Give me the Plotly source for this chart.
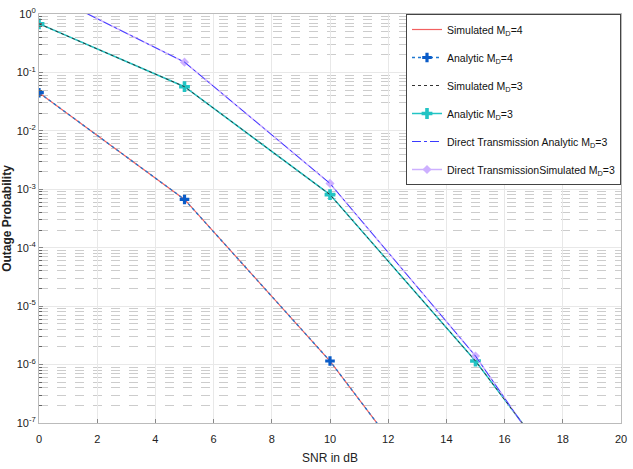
import plotly.graph_objects as go

snr = [0, 5, 10, 15, 20]
sim_md4 = [0.045, 6.7e-4, 1.15e-6, 6e-10, 3e-13]
ana_md4 = [0.045, 6.7e-4, 1.15e-6, 6e-10, 3e-13]
sim_md3 = [0.68, 0.057, 8.1e-4, 1.15e-6, 5.7e-10]
ana_md3 = [0.68, 0.057, 8.1e-4, 1.15e-6, 5.7e-10]
dt_ana = [2.6, 0.15, 1.26e-3, 1.4e-6, 3.5e-10]
dt_sim = [2.6, 0.15, 1.26e-3, 1.4e-6, 3.5e-10]

xticks = [0, 2, 4, 6, 8, 10, 12, 14, 16, 18, 20]
ytick_exp = [0, -1, -2, -3, -4, -5, -6, -7]
minor_vals = [k * 10 ** e for e in range(-7, 0) for k in range(2, 10)]

fig = go.Figure()
# drawn in this order (solid first, dotted overlays on top); legend uses legendrank
fig.add_trace(go.Scatter(x=snr, y=sim_md4, mode="lines", name="Simulated M<sub>D</sub>=4",
                         legendrank=1, legendgroup="a",
                         line=dict(color="#f26060", width=1.2)))
fig.add_trace(go.Scatter(x=snr, y=ana_md3, mode="lines+markers", name="Analytic M<sub>D</sub>=3",
                         legendrank=4, legendgroup="d",
                         line=dict(color="#22c4c4", width=1.5),
                         marker=dict(symbol="cross", size=9, color="#22c4c4")))
fig.add_trace(go.Scatter(x=snr, y=dt_sim, mode="lines+markers", name="Direct TransmissionSimulated M<sub>D</sub>=3",
                         legendrank=6, legendgroup="f",
                         line=dict(color="#cdb0ff", width=1.5),
                         marker=dict(symbol="diamond", size=7, color="#cdb0ff")))
fig.add_trace(go.Scatter(x=snr, y=ana_md4, mode="lines+markers", name="Analytic M<sub>D</sub>=4",
                         legendrank=2, legendgroup="b",
                         line=dict(color="#1f78d0", width=1.3, dash="dot"),
                         marker=dict(symbol="cross", size=8, color="#0a5cc8")))
fig.add_trace(go.Scatter(x=snr, y=sim_md3, mode="lines", name="Simulated M<sub>D</sub>=3",
                         legendrank=3, legendgroup="c",
                         line=dict(color="#333333", width=1, dash="dot")))
fig.add_trace(go.Scatter(x=snr, y=dt_ana, mode="lines", name="Direct Transmission Analytic M<sub>D</sub>=3",
                         legendrank=5, legendgroup="e",
                         line=dict(color="#3a3aff", width=1, dash="dashdot")))

fig.update_layout(
    width=633, height=469,
    margin=dict(l=38, r=6, t=14, b=45),
    paper_bgcolor="white", plot_bgcolor="white",
    font=dict(family="Liberation Sans, Arial", size=11, color="#222"),
    legend=dict(x=1, y=1, xanchor="right", yanchor="top",
                bgcolor="white", bordercolor="#444", borderwidth=1,
                font=dict(size=10.5, color="#111"),
                traceorder="grouped", tracegroupgap=9,
                itemwidth=30),
    showlegend=True,
)

fig.update_xaxes(range=[0, 20], tickvals=xticks, ticktext=[str(t) for t in xticks],
                 showgrid=True, gridcolor="#e8e8e8", gridwidth=1,
                 showline=True, linecolor="#bbbbbb", mirror=True,
                 ticks="inside", ticklen=4, tickcolor="#888",
                 zeroline=False, tickfont=dict(size=11), ticklabelstandoff=6,
                 title=dict(text="SNR in dB", font=dict(size=12), standoff=9))
fig.update_yaxes(type="log", range=[-7, 0],
                 tickvals=[10 ** e for e in ytick_exp],
                 ticktext=["10<sup>%d</sup>" % e for e in ytick_exp],
                 showgrid=True, gridcolor="#e8e8e8", gridwidth=1,
                 showline=True, linecolor="#bbbbbb", mirror=True,
                 ticks="inside", ticklen=4, tickcolor="#888",
                 tickfont=dict(size=11),
                 minor=dict(tickvals=minor_vals, showgrid=True, gridcolor="#cccccc",
                            griddash="dash", ticks="inside", ticklen=3, tickcolor="#666"),
                 title=dict(text="<b>Outage Probability</b>", font=dict(size=12), standoff=2))

fig.write_html("out.html", config={"displayModeBar": False},
               post_script="document.body.style.margin='0';")
